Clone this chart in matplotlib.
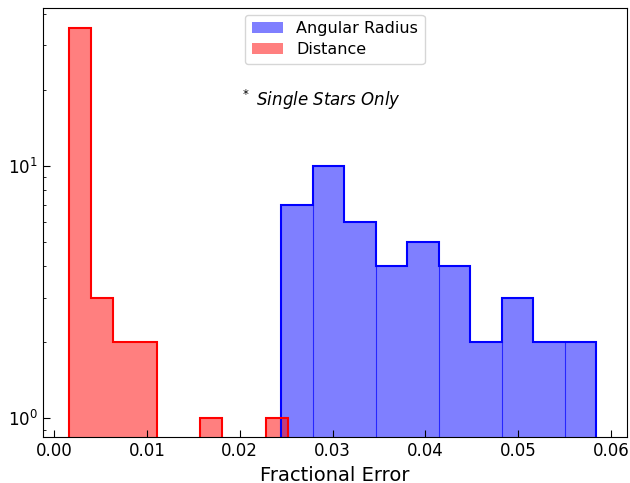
import numpy as np
import matplotlib
matplotlib.use("Agg")
import matplotlib.pyplot as plt

# Histogram counts per bin (log y axis)
dist_edges = [0.00162, 0.00398, 0.00634, 0.00870, 0.01106, 0.01342,
              0.01578, 0.01814, 0.02050, 0.02286, 0.02522]
dist_counts = [35, 3, 2, 2, 0, 0, 1, 0, 0, 1]

ang_edges = [0.02446, 0.02786, 0.03125, 0.03465, 0.03805, 0.04145,
             0.04484, 0.04824, 0.05164, 0.05503, 0.05843]
ang_counts = [7, 10, 6, 4, 5, 4, 2, 3, 2, 2]


def draw_hist(ax, edges, counts, color, label, seams=False):
    """Filled bars with a solid step outline on top."""
    edges = np.asarray(edges)
    counts = np.asarray(counts, dtype=float)
    centers = 0.5 * (edges[:-1] + edges[1:])
    ax.hist(centers, bins=edges, weights=counts, histtype="bar",
            color=color, alpha=0.5, linewidth=0, label=label, log=True)
    if seams:
        # faint dividers between some neighbouring bars
        for i in range(1, len(edges) - 1, 2):
            ax.vlines(edges[i], 0.5, min(counts[i - 1], counts[i]),
                      color=color, linewidth=0.8, alpha=0.7)
    ax.hist(centers, bins=edges, weights=counts, histtype="step",
            color=color, linewidth=1.5, log=True)


fig, ax = plt.subplots(figsize=(6.3, 4.83), dpi=100)
fig.subplots_adjust(left=0.068, right=0.995, top=0.983, bottom=0.095)

draw_hist(ax, ang_edges, ang_counts, "blue", "Angular Radius", seams=True)
draw_hist(ax, dist_edges, dist_counts, "red", "Distance")

ax.set_yscale("log")
ax.set_ylim(0.84, 42)
ax.set_xlim(-0.0012, 0.0617)
ax.set_xticks([0.0, 0.01, 0.02, 0.03, 0.04, 0.05, 0.06])
ax.set_xticklabels(["0.00", "0.01", "0.02", "0.03", "0.04", "0.05", "0.06"])
ax.tick_params(which="both", direction="in", labelsize=12)
ax.tick_params(which="major", length=5)
ax.tick_params(which="minor", length=2.5)
ax.set_xlabel("Fractional Error", fontsize=14)

ax.legend(loc="upper center", fontsize=11.5, labelspacing=0.4,
          borderaxespad=0.4)
ax.text(0.476, 0.786, r"$^*$ Single Stars Only", transform=ax.transAxes,
        ha="center", va="center", fontsize=12, style="italic")

plt.savefig("out.png", dpi=100)
